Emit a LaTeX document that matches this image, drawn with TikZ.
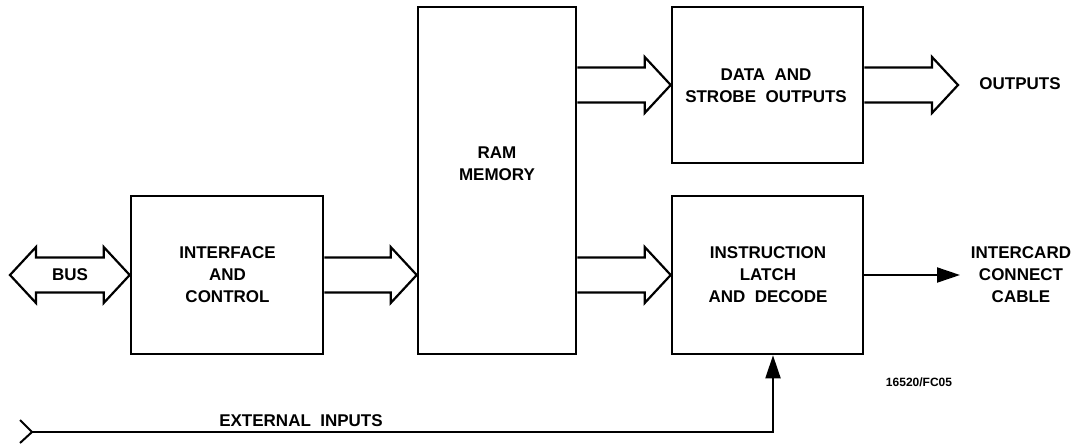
\documentclass[tikz,border=0pt]{standalone}
\usepackage{fontspec}
\setmainfont{Liberation Sans}
\usetikzlibrary{calc,arrows.meta}
\begin{document}
\begin{tikzpicture}[x=1pt,y=1pt,
  blockbox/.style={draw=black,line width=2.6pt,minimum width=#1,inner sep=0pt},
  lbl/.style={font=\fontsize{17}{22}\selectfont\bfseries,align=center,inner sep=0pt},
  small/.style={font=\fontsize{12}{14}\selectfont\bfseries,inner sep=0pt},
  fat/.style={draw=black,line width=2.2pt,line join=miter},
  thin/.style={draw=black,line width=2pt},
  tip/.style={-{Triangle[length=23pt,width=15pt]}}]
\useasboundingbox (0,0) rectangle (1075,-445);
\fill[white] (0,0) rectangle (1075,-445);

% blocks
\node[blockbox=192pt,minimum height=158pt] (iface) at (227,-275) {};
\node[blockbox=158pt,minimum height=347pt] (ram) at (497,-180.5) {};
\node[blockbox=191pt,minimum height=156pt] (data) at (767.5,-85) {};
\node[blockbox=191pt,minimum height=158pt] (instr) at (767.5,-275) {};

% texts
\node[lbl] (ifacet) at (227.5,-275) {INTERFACE\\AND\\CONTROL};
\node[lbl] (ramt) at (497,-164) {RAM\\MEMORY};
\node[lbl] (datat) at (766,-86) {DATA\ \ AND\\STROBE\ \ OUTPUTS};
\node[lbl] (instrt) at (768,-275) {INSTRUCTION\\LATCH\\AND\ \ DECODE};
\node[lbl] (outt) at (1020,-84) {OUTPUTS};
\node[lbl] (icct) at (1021,-275) {INTERCARD\\CONNECT\\CABLE};
\node[lbl] (bust) at (70,-275) {BUS};
\node[lbl] (extt) at (301,-421) {EXTERNAL\ \ INPUTS};
\node[small] (fig) at (919,-382) {16520/FC05};

% wide arrows
\newcommand\fatarrow[2]{%
  \draw[fat] ($(#1)+(0,17.5)$) -- ($(#2)+(-26,17.5)$) -- ($(#2)+(-26,28)$) -- (#2)
     -- ($(#2)+(-26,-28)$) -- ($(#2)+(-26,-17.5)$) -- ($(#1)+(0,-17.5)$);}
\fatarrow{iface.east}{ram.west |- iface.east}
\fatarrow{ram.east |- data.west}{data.west}
\fatarrow{ram.east |- instr.west}{instr.west}
\coordinate (outtip) at (958,-85);
\fatarrow{data.east}{outtip}

% bus double arrow
\coordinate (bl) at (10,-275);
\draw[fat] (bl) -- ++(26,28) -- ++(0,-10.5) -- ($(iface.west)+(-26,17.5)$)
  -- ++(0,10.5) -- (iface.west) -- ++(-26,-28) -- ++(0,10.5)
  -- ($(bl)+(26,-17.5)$) -- ++(0,-10.5) -- cycle;

% intercard
\coordinate (icc) at (960,-275);
\draw[thin,tip] (instr.east) -- (icc);

% external inputs
\coordinate (ext) at (32,-432);
\draw[thin] ($(ext)+(-12,12)$) -- (ext) -- ($(ext)+(-12,-11)$);
\draw[thin,tip] (ext) -| ($(instr.south)+(5.5,0)$);
\end{tikzpicture}
\end{document}
